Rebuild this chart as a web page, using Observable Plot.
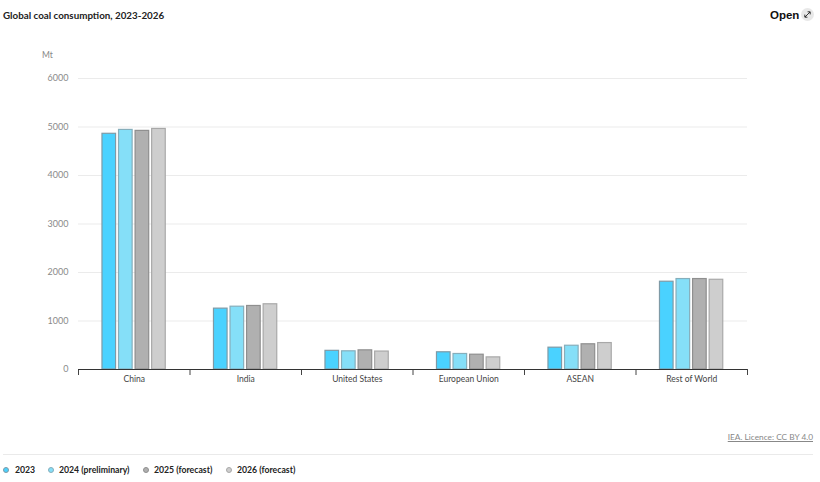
<!DOCTYPE html>
<html>
<head>
<meta charset="utf-8">
<script src="https://cdn.jsdelivr.net/npm/d3@7"></script>
<script src="https://cdn.jsdelivr.net/npm/@observablehq/plot@0.6"></script>
<style>
html,body{margin:0;padding:0;background:#fff;width:820px;height:482px;overflow:hidden;font-family:Lato,"Liberation Sans",sans-serif}
.abs{position:absolute;white-space:nowrap;z-index:2}
#chart{position:absolute;left:0;top:40px}
#chart svg{display:block}
.leg{position:absolute;top:464px;font-size:8.7px;font-weight:700;color:#222;line-height:11px}
.dot{position:absolute;top:467px;width:6px;height:6px;border-radius:50%;border:1px solid #999;box-sizing:border-box}
</style>
</head>
<body>
<div class="abs" style="left:3px;top:8px;font-size:9.8px;font-weight:700;color:#222;line-height:14px">Global coal consumption, 2023-2026</div>
<div class="abs" style="left:770px;top:8px;font-size:11.5px;font-weight:700;font-family:'Liberation Sans',sans-serif;color:#111;line-height:14px">Open</div>
<div class="abs" style="left:801px;top:8px;width:13px;height:13px;border-radius:50%;background:#e8e8e8">
<svg width="13" height="13" viewBox="0 0 13 13" style="display:block"><path d="M4 9 L9 4 M6.6 3.8 H9.2 V6.4 M3.8 6.6 V9.2 H6.4" fill="none" stroke="#222" stroke-width="0.9"/></svg>
</div>
<div class="abs" style="left:42px;top:50px;font-size:8.5px;color:#888;line-height:10px">Mt</div>
<div id="chart"></div>
<div class="abs" style="right:7px;top:432px;font-size:8.3px;color:#888;text-decoration:underline;line-height:11px">IEA. Licence: CC BY 4.0</div>
<div class="abs" style="left:3px;top:454px;width:810px;height:1px;background:#eaeaea"></div>
<div id="legend"></div>
<script>
const categories = ["China","India","United States","European Union","ASEAN","Rest of World"];
const seriesNames = ["2023","2024 (preliminary)","2025 (forecast)","2026 (forecast)"];
const values2023 = [4860,1255,385,355,450,1810];
const values2024 = [4940,1295,375,320,490,1865];
const values2025 = [4920,1310,395,305,520,1865];
const values2026 = [4960,1345,370,250,545,1850];
const fills = ["#4ad2ff","#85dff8","#b0b0b0","#cecece"];
const strokes = ["#7f9aa6","#86aebb","#8f8f8f","#a8a8a8"];
const legendX = [[3,15],[48,59],[143,154],[226,237]];

const allValues = [values2023,values2024,values2025,values2026];
const rows = allValues.flatMap((vals,s)=>vals.map((v,c)=>({c,s,v})));
const start = 0.215, step = 0.1485, w = 0.122;

const plot = Plot.plot({
  width: 820, height: 370,
  marginLeft: 78, marginRight: 73, marginTop: 38, marginBottom: 41,
  x: {domain:[0,categories.length], axis:null},
  y: {domain:[0,6000], axis:null},
  style: {fontFamily:"Lato, 'Liberation Sans', sans-serif", background:"transparent"},
  marks: [
    Plot.gridY({ticks:[1000,2000,3000,4000,5000,6000], stroke:"#ebebeb", strokeOpacity:1, strokeWidth:1}),
    Plot.axisY({ticks:[0,1000,2000,3000,4000,5000,6000], tickSize:0, tickPadding:10, label:null, fontSize:9, color:"#8a8a8a", tickFormat:d=>String(d)}),
    Plot.rectY(rows,{
      x1:d=>d.c+start+d.s*step, x2:d=>d.c+start+d.s*step+w, y1:0, y2:"v",
      fill:d=>fills[d.s], stroke:d=>strokes[d.s], strokeWidth:1.2
    }),
    Plot.axisX({ticks:d3.range(categories.length+1), tickFormat:()=>"", tickSize:6, stroke:"#444", strokeWidth:1, label:null}),
    Plot.axisX({ticks:categories.map((_,i)=>i+0.5), tickSize:0, tickPadding:6, tickFormat:d=>categories[d-0.5], fontSize:8.5, color:"#444", label:null}),
    Plot.ruleY([0],{stroke:"#333",strokeWidth:1})
  ]
});
document.getElementById("chart").appendChild(plot);

const leg = document.getElementById("legend");
seriesNames.forEach((n,i)=>{
  const dot=document.createElement("div");dot.className="dot";
  dot.style.left=legendX[i][0]+"px";dot.style.background=fills[i];dot.style.borderColor=strokes[i];
  leg.appendChild(dot);
  const t=document.createElement("div");t.className="leg";t.textContent=n;t.style.left=legendX[i][1]+"px";
  leg.appendChild(t);
});
</script>
</body>
</html>
